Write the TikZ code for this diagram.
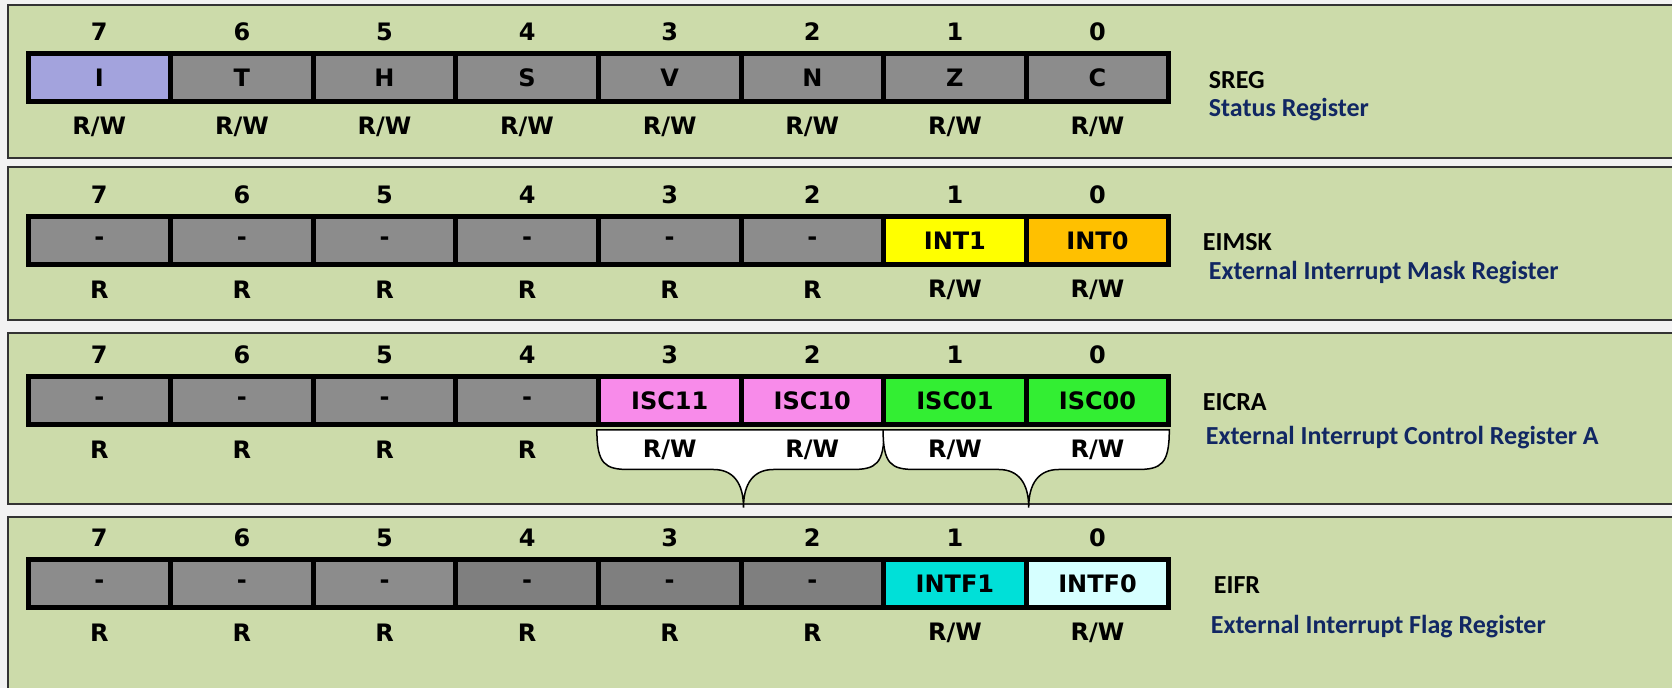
\documentclass[tikz,border=0pt]{standalone}
\usepackage{fontspec}
\newfontfamily\cellfont{DejaVu Sans}
\newfontfamily\labelfont{Carlito}
\usetikzlibrary{positioning,calc}
\definecolor{PanelGreen}{RGB}{204,219,170}
\definecolor{PageGray}{RGB}{242,242,242}
\definecolor{BitGray}{RGB}{140,140,140}
\definecolor{BitDark}{RGB}{127,127,127}
\definecolor{BitLavender}{RGB}{163,163,221}
\definecolor{BitYellow}{RGB}{255,255,0}
\definecolor{BitOrange}{RGB}{255,192,0}
\definecolor{BitPink}{RGB}{248,139,234}
\definecolor{BitGreen}{RGB}{51,238,51}
\definecolor{BitCyan}{RGB}{0,224,216}
\definecolor{BitIce}{RGB}{214,255,255}
\definecolor{NavyText}{RGB}{17,39,99}
\newcommand{\rwacc}{R/W}
\tikzset{
  panel/.style={draw=black!80,line width=1pt,fill=PanelGreen},
  bitcell/.style={draw=black,line width=2.5pt,minimum width=71.3pt,
    minimum height=24pt,inner sep=0pt,
    font=\cellfont\bfseries\fontsize{12}{14}\selectfont},
  bitnum/.style={inner sep=0pt,font=\cellfont\bfseries\fontsize{12}{14}\selectfont},
  access/.style={inner sep=0pt,font=\cellfont\bfseries\fontsize{12}{14}\selectfont},
  regname/.style={anchor=west,inner sep=0pt,
    font=\labelfont\bfseries\fontsize{13}{15}\selectfont},
  regdesc/.style={regname,text=NavyText},
  brace/.style={draw=black,line width=0.75pt,fill=white}
}

\begin{document}
\begin{tikzpicture}[x=0.5pt,y=-0.5pt]
  \fill[PageGray] (0,0) rectangle (1672,688);
  \useasboundingbox (0,0) rectangle (1672,688);
  \clip (0,0) rectangle (1672,688);

  % panels
  \draw[panel] (7.5,5.5) rectangle (1700,158);
  \draw[panel] (7.5,167.5) rectangle (1700,320.5);
  \draw[panel] (7.5,333) rectangle (1700,504.5);
  \draw[panel] (7.5,517) rectangle (1700,720);

  % SREG
  \foreach \txt/\col/\acc [count=\i from 0] in {I/BitLavender/\rwacc,
      T/BitGray/\rwacc,H/BitGray/\rwacc,S/BitGray/\rwacc,V/BitGray/\rwacc,
      N/BitGray/\rwacc,Z/BitGray/\rwacc,C/BitGray/\rwacc}{
    \pgfmathsetmacro\bit{int(7-\i)}
    \node[bitcell,fill=\col] (sreg\bit) at ({99.3+142.6*\i},77.5) {\txt};
    \node[bitnum] (sregn\bit) at ([yshift=23pt]sreg\bit.center) {\bit};
    \node[access] (srega\bit) at ([yshift=-24.5pt]sreg\bit.center) {\acc};
  }
  \node[regname] (sregname) at ([xshift=18.6pt,yshift=-1.25pt]sreg0.east) {SREG};
  \node[regdesc] (sregdesc) at ([yshift=-15pt]sregname.west) {Status Register};

  % EIMSK
  \foreach \txt/\col/\acc [count=\i from 0] in {-/BitGray/R,-/BitGray/R,
      -/BitGray/R,-/BitGray/R,-/BitGray/R,-/BitGray/R,
      INT1/BitYellow/\rwacc,INT0/BitOrange/\rwacc}{
    \pgfmathsetmacro\bit{int(7-\i)}
    \node[bitcell,fill=\col] (eimsk\bit) at ({99.3+142.6*\i},241) {\txt};
    \node[bitnum] (eimskn\bit) at ([yshift=23pt]eimsk\bit.center) {\bit};
    \node[access] (eimska\bit) at ([yshift=-24.5pt]eimsk\bit.center) {\acc};
  }
  \node[regname] (eimskname) at ([xshift=15.6pt,yshift=-0.5pt]eimsk0.east) {EIMSK};
  \node[regdesc] (eimskdesc) at ([xshift=3pt,yshift=-15.5pt]eimskname.west)
    {External Interrupt Mask Register};

  % EICRA
  \foreach \txt/\col [count=\i from 0] in {-/BitGray,-/BitGray,-/BitGray,
      -/BitGray,ISC11/BitPink,ISC10/BitPink,ISC01/BitGreen,ISC00/BitGreen}{
    \pgfmathsetmacro\bit{int(7-\i)}
    \node[bitcell,fill=\col] (eicra\bit) at ({99.3+142.6*\i},401) {\txt};
    \node[bitnum] (eicran\bit) at ([yshift=23pt]eicra\bit.center) {\bit};
  }
  \draw[brace] ([xshift=0.5pt,yshift=-1.25pt]eicra3.south west)
    .. controls +(0,-17pt) and +(-12pt,0) .. ++(16pt,-19.75pt)
    -- ([xshift=-15pt,yshift=-21pt]eicra3.south east)
    .. controls +(10pt,0) and +(0,12pt) .. ([yshift=-40pt]eicra3.south east)
    .. controls +(0,12pt) and +(-10pt,0) .. ([xshift=15pt,yshift=-21pt]eicra3.south east)
    -- ([xshift=-17pt,yshift=-21pt]eicra2.south east)
    .. controls +(12pt,0) and +(0,-17pt) .. ([xshift=-1pt,yshift=-1.25pt]eicra2.south east)
    -- cycle;
  \draw[brace] ([xshift=1pt,yshift=-1.25pt]eicra1.south west)
    .. controls +(0,-17pt) and +(-12pt,0) .. ++(16pt,-19.75pt)
    -- ([xshift=-15pt,yshift=-21pt]eicra1.south east)
    .. controls +(10pt,0) and +(0,12pt) .. ([yshift=-40pt]eicra1.south east)
    .. controls +(0,12pt) and +(-10pt,0) .. ([xshift=15pt,yshift=-21pt]eicra1.south east)
    -- ([xshift=-17pt,yshift=-21pt]eicra0.south east)
    .. controls +(12pt,0) and +(0,-17pt) .. ([xshift=-1pt,yshift=-1.25pt]eicra0.south east)
    -- cycle;
  \foreach \acc [count=\i from 0] in {R,R,R,R,\rwacc,\rwacc,\rwacc,\rwacc}{
    \pgfmathsetmacro\bit{int(7-\i)}
    \node[access] (eicraa\bit) at ([yshift=-24.5pt]eicra\bit.center) {\acc};
  }
  \node[regname] (eicraname) at ([xshift=15.6pt,yshift=-0.5pt]eicra0.east) {EICRA};
  \node[regdesc] (eicradesc) at ([xshift=1.5pt,yshift=-18pt]eicraname.west)
    {External Interrupt Control Register A};

  % EIFR
  \foreach \txt/\col/\acc [count=\i from 0] in {-/BitGray/R,-/BitGray/R,
      -/BitGray/R,-/BitDark/R,-/BitDark/R,-/BitDark/R,
      INTF1/BitCyan/\rwacc,INTF0/BitIce/\rwacc}{
    \pgfmathsetmacro\bit{int(7-\i)}
    \node[bitcell,fill=\col] (eifr\bit) at ({99.3+142.6*\i},584) {\txt};
    \node[bitnum] (eifrn\bit) at ([yshift=23pt]eifr\bit.center) {\bit};
    \node[access] (eifra\bit) at ([yshift=-24.5pt]eifr\bit.center) {\acc};
  }
  \node[regname] (eifrname) at ([xshift=21.1pt,yshift=-0.5pt]eifr0.east) {EIFR};
  \node[regdesc] (eifrdesc) at ([xshift=-1.5pt,yshift=-21pt]eifrname.west)
    {External Interrupt Flag Register};
\end{tikzpicture}
\end{document}
